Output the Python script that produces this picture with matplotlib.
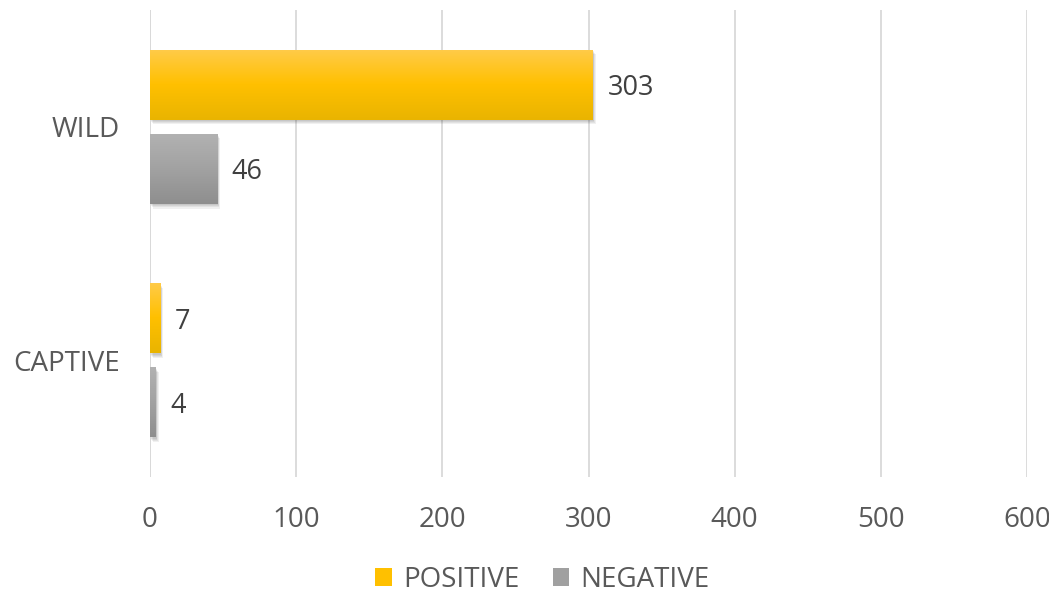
import numpy as np
import matplotlib.pyplot as plt
import matplotlib.patheffects as pe
from matplotlib.colors import LinearSegmentedColormap
from matplotlib.patches import Rectangle, Patch

plt.rcParams['font.family'] = ['Open Sans', 'DejaVu Sans']

# data
categories = ['CAPTIVE', 'WILD']
positive = [7, 303]
negative = [4, 46]
series_names = ['POSITIVE', 'NEGATIVE']
x_ticks = [0, 100, 200, 300, 400, 500, 600]

text_color = '#595959'
grid_color = '#D9D9D9'

# vertical gradients (top -> bottom)
gold = LinearSegmentedColormap.from_list('gold', ['#FFCB4A', '#FFC000', '#E9B400'])
grey = LinearSegmentedColormap.from_list('grey', ['#B2B2B2', '#A2A2A2', '#8E8E8E'])

fig = plt.figure(figsize=(10.49, 5.94), dpi=100)
ax = fig.add_axes([150 / 1049, 1 - 477 / 594, (1027 - 150) / 1049, (477 - 10) / 594])

bar_h = 0.30
off = 0.18
grad = np.linspace(0, 1, 256).reshape(-1, 1)

# soft drop shadow built from a few faint offset copies
soft_shadow = [pe.SimplePatchShadow(offset=(dx, dy), shadow_rgbFace='#000000', alpha=0.06)
               for dx, dy in [(0.5, -1.0), (1.0, -1.8), (1.5, -2.6), (2.0, -3.4)]]

def gradient_bar(y, w, cmap):
    base = Rectangle((0, y - bar_h / 2), w, bar_h, facecolor='white', edgecolor='none', zorder=2,
                     path_effects=soft_shadow + [pe.Normal()])
    ax.add_patch(base)
    clip = Rectangle((0, y - bar_h / 2), w, bar_h, facecolor='none', edgecolor='none', zorder=2)
    ax.add_patch(clip)
    im = ax.imshow(grad, cmap=cmap, aspect='auto', extent=(0, w, y - bar_h / 2, y + bar_h / 2),
                   origin='upper', zorder=3, interpolation='bilinear')
    im.set_clip_path(clip)

for i, cat in enumerate(categories):
    gradient_bar(i + off, positive[i], gold)
    gradient_bar(i - off, negative[i], grey)
    ax.text(positive[i] + 10, i + off, str(positive[i]), va='center_baseline', ha='left',
            fontsize=19.5, color='#404040')
    ax.text(negative[i] + 10, i - off, str(negative[i]), va='center_baseline', ha='left',
            fontsize=19.5, color='#404040')

ax.set_xlim(0, 600)
ax.set_ylim(-0.5, 1.5)
ax.set_xticks(x_ticks)
ax.set_yticks(range(len(categories)))
ax.set_yticklabels(categories)
ax.xaxis.grid(True, color=grid_color, linewidth=1.3)
ax.set_axisbelow(True)
for s in ax.spines.values():
    s.set_visible(False)
ax.axvline(0, color=grid_color, linewidth=1.3, zorder=1)
ax.tick_params(axis='both', length=0, labelsize=20, colors=text_color)
ax.tick_params(axis='x', pad=21)
ax.tick_params(axis='y', pad=22)

handles = [Patch(facecolor='#FFC000', edgecolor='none'), Patch(facecolor='#A0A0A0', edgecolor='none')]
fig.legend(handles, series_names, loc='center', bbox_to_anchor=(0.517, 1 - 580 / 594), ncol=2,
           frameon=False, fontsize=20, labelcolor=text_color, handlelength=0.6, handleheight=0.6,
           handletextpad=0.4, columnspacing=1.2)

fig.savefig('out.png', dpi=100)
